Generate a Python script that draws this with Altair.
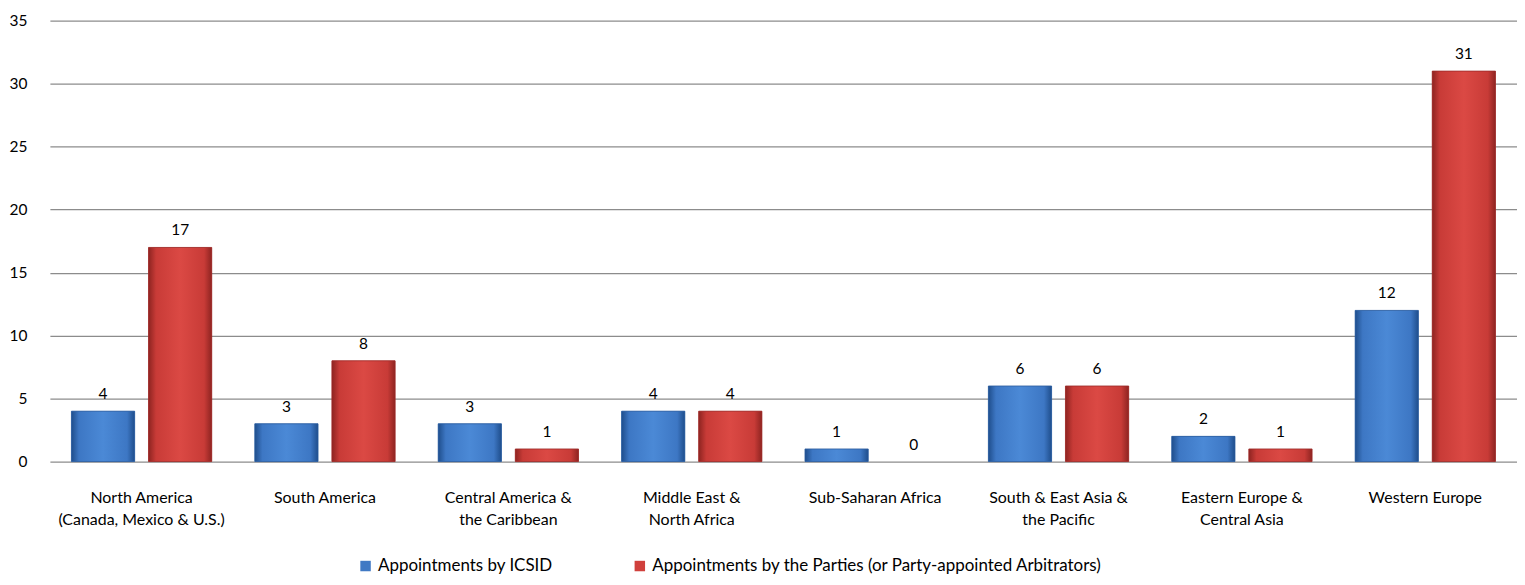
import altair as alt
import pandas as pd

regions = [
    "North America|(Canada, Mexico & U.S.)",
    "South America",
    "Central America &|the Caribbean",
    "Middle East &|North Africa",
    "Sub-Saharan Africa",
    "South & East Asia &|the Pacific",
    "Eastern Europe &|Central Asia",
    "Western Europe",
]
series = ["Appointments by ICSID", "Appointments by the Parties (or Party-appointed Arbitrators)"]
icsid = [4, 3, 3, 4, 1, 6, 2, 12]
parties = [17, 8, 1, 4, 0, 6, 1, 31]

rows = []
for r, a, b in zip(regions, icsid, parties):
    rows.append({"region": r, "series": series[0], "value": a})
    rows.append({"region": r, "series": series[1], "value": b})
df = pd.DataFrame(rows)

FONT = "Lato"

x_enc = alt.X(
    "region:N", sort=regions,
    scale=alt.Scale(paddingInner=0.235, paddingOuter=0.1175),
    axis=alt.Axis(title=None, labelExpr="split(datum.label, '|')", labelAngle=0,
                  domain=False, ticks=False, labelPadding=28, labelFontSize=16,
                  labelLineHeight=22, labelColor="#000", labelFont=FONT),
)
xo_enc = alt.XOffset("series:N", sort=series, scale=alt.Scale(paddingInner=0.18, paddingOuter=0))
y_enc = alt.Y(
    "value:Q", scale=alt.Scale(domain=[0, 35], nice=False),
    axis=alt.Axis(title=None, values=[0, 5, 10, 15, 20, 25, 30, 35], domain=False, ticks=False,
                  labelPadding=23, labelFontSize=15.5, labelColor="#000", labelFont=FONT,
                  gridColor="#8c8c8c", gridWidth=1.2),
)

base = alt.Chart(df).encode(x=x_enc, xOffset=xo_enc, y=y_enc)
nonzero = alt.datum.value > 0

legend_bars = base.transform_filter(nonzero).mark_bar().encode(
    color=alt.Color("series:N", sort=series,
                    scale=alt.Scale(domain=series, range=["#4079C4", "#D0403C"]),
                    legend=alt.Legend(title=None, orient="none", direction="horizontal",
                                      legendX=308, legendY=538,
                                      symbolType="square", symbolSize=110, labelFontSize=17,
                                      labelFont=FONT, labelColor="#000", columnPadding=78,
                                      labelLimit=800, symbolStrokeWidth=0.5)),
)

def grad(edge, mid, light):
    return alt.Gradient(
        gradient="linear", x1=0, x2=1, y1=0, y2=0,
        stops=[
            alt.GradientStop(color=edge, offset=0),
            alt.GradientStop(color=mid, offset=0.12),
            alt.GradientStop(color=light, offset=0.5),
            alt.GradientStop(color=mid, offset=0.88),
            alt.GradientStop(color=edge, offset=1),
        ],
    )

blue = base.transform_filter(nonzero).transform_filter(alt.datum.series == series[0]).mark_bar(
    fill=grad("#1F4E8C", "#3D77C4", "#4B89D6"), stroke="#2A5C9E", strokeWidth=0.8)
red = base.transform_filter(nonzero).transform_filter(alt.datum.series == series[1]).mark_bar(
    fill=grad("#8E2421", "#C83B37", "#DB4944"), stroke="#9C2B28", strokeWidth=0.8)

labels = base.mark_text(baseline="bottom", dy=-9, fontSize=15.5, font=FONT, color="#000").encode(
    text="value:Q")

chart = alt.layer(legend_bars, blue, red, labels).properties(
    width=1471, height=442, padding={"left": 1, "top": 5, "right": 0, "bottom": 5}
).configure_view(stroke=None)

chart.save("out.html", embed_options={"renderer": "svg", "actions": False})
